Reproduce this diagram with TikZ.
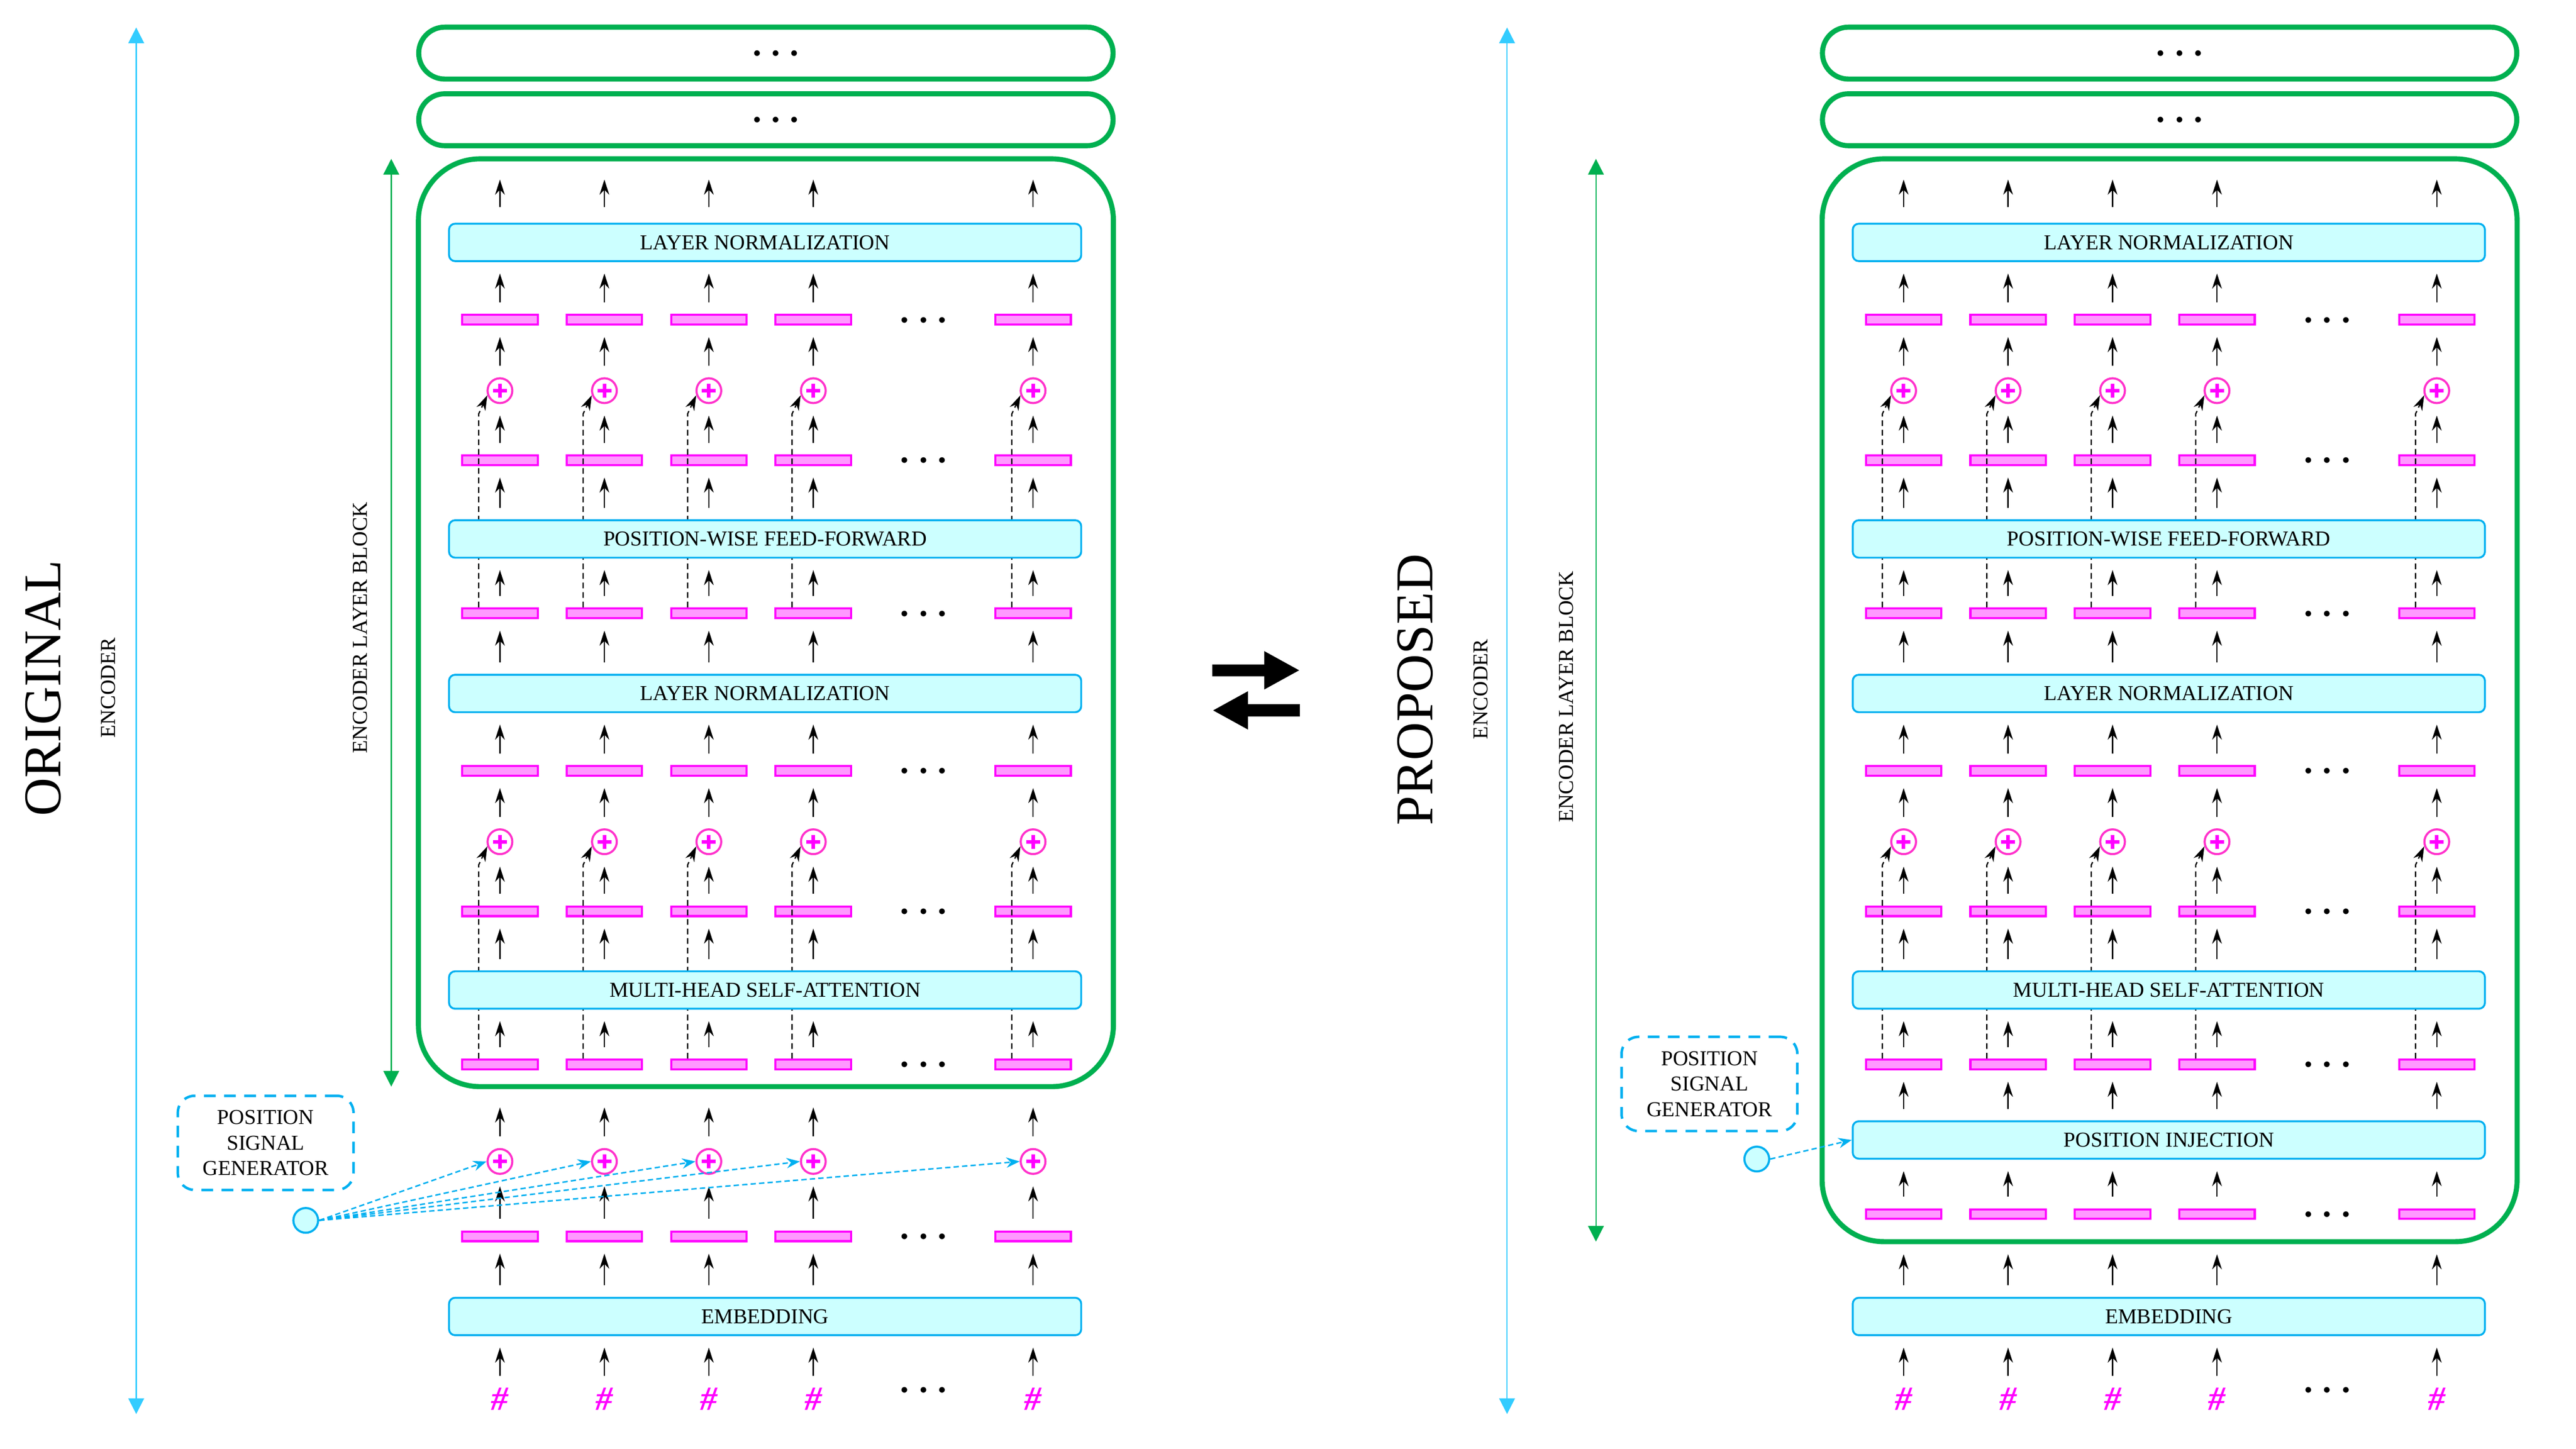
\documentclass[tikz,border=0pt]{standalone}
\usepackage{fontspec}
\setmainfont{Liberation Serif}
\usetikzlibrary{arrows.meta}

\definecolor{blockgreen}{HTML}{00B050}
\definecolor{boxblue}{HTML}{00B0F0}
\definecolor{boxfill}{HTML}{CCFFFF}
\definecolor{encblue}{HTML}{33CCFF}
\definecolor{vecmag}{HTML}{FF00FF}
\definecolor{vecfill}{HTML}{FF99FF}
\definecolor{sumpink}{HTML}{FF33CC}

\tikzset{
	layerbox/.style={draw=boxblue, fill=boxfill, line width=0.9pt, rounded corners=0.1cm,
		minimum width=10.47cm, minimum height=0.62cm, inner sep=0pt},
	vecbox/.style={draw=vecmag, fill=vecfill, line width=1pt,
		minimum width=1.25cm, minimum height=0.16cm, inner sep=0pt},
	sumnode/.style={circle, draw=sumpink, fill=white, line width=1pt, minimum size=0.41cm, inner sep=0pt,
		path picture={\draw[vecmag, line width=1.7pt]
			([xshift=-0.115cm]path picture bounding box.center) -- ([xshift=0.115cm]path picture bounding box.center)
			([yshift=-0.115cm]path picture bounding box.center) -- ([yshift=0.115cm]path picture bounding box.center);}},
	flowarrow/.style={-{Stealth[length=2.5mm,width=1.6mm]}, line width=0.6pt,
		shorten <=0.19cm, shorten >=0.19cm},
	skipline/.style={-{Stealth[length=2.5mm,width=1.6mm]}, line width=0.6pt,
		dash pattern=on 2.7pt off 1.8pt},
	sigline/.style={-{Stealth[length=2.2mm,width=1.7mm]}, draw=boxblue, line width=0.7pt,
		dash pattern=on 2.5pt off 1.5pt},
	genbox/.style={draw=boxblue, line width=1.2pt, dash pattern=on 5.5pt off 4pt,
		rounded corners=0.28cm, minimum width=2.91cm, minimum height=1.56cm, align=center},
	gencirc/.style={circle, draw=boxblue, fill=boxfill, line width=1pt, minimum size=0.41cm, inner sep=0pt},
	stackpill/.style={draw=blockgreen, line width=2.4pt, rounded corners=0.43cm,
		minimum width=11.5cm, minimum height=0.86cm},
	bigblock/.style={draw=blockgreen, line width=2.4pt, rounded corners=1.02cm},
	token/.style={text=vecmag, inner sep=0pt, font=\fontsize{16}{18}\selectfont\bfseries\itshape},
	dotsnode/.style={anchor=base, yshift=-0.158cm, inner sep=0pt, font=\fontsize{18}{20}\selectfont\boldmath},
	spanline/.style={{Triangle[length=0.26cm,width=0.26cm]}-{Triangle[length=0.26cm,width=0.26cm]}, line width=0.6pt},
	swaparrow/.style={-{Triangle[length=0.59cm,width=0.59cm]}, line width=0.2cm},
	headline/.style={rotate=90, font=\fontsize{25}{30}\selectfont},
	sidelabel/.style={rotate=90}
}

\begin{document}
\begin{tikzpicture}
	\useasboundingbox (0,0) rectangle (42.664,24);

	% both encoders share the layers from the attention upwards
	\foreach \side/\dx/\base in {L/0/6.0,R/23.248/3.432}{
	\begin{scope}[xshift=\dx cm]
		\node[stackpill] (\side-stack1) at (12.685,23.12) {};
		\node[stackpill] (\side-stack2) at (12.685,22.016) {};
		\node[dotsnode] (\side-stackdots1) at (12.85,23.12) {$\cdots$};
		\node[dotsnode] (\side-stackdots2) at (12.85,22.016) {$\cdots$};
		\draw[bigblock] (6.93,21.368) rectangle (18.44,\base);

		\foreach \col/\xc in {1/8.28,2/10.01,3/11.74,4/13.47,5/17.11}{
			\node[vecbox] (\side-a\col) at (\xc,18.704) {};
			\node[sumnode] (\side-p\col) at (\xc,17.528) {};
			\node[vecbox] (\side-b\col) at (\xc,16.376) {};
			\node[vecbox] (\side-c\col) at (\xc,13.84) {};
			\node[vecbox] (\side-d\col) at (\xc,11.232) {};
			\node[sumnode] (\side-q\col) at (\xc,10.056) {};
			\node[vecbox] (\side-e\col) at (\xc,8.904) {};
			\node[vecbox] (\side-f\col) at (\xc,6.368) {};
			\node[token] (\side-t\col) at (\xc,0.824) {\#};
			\coordinate (\side-o\col) at (\xc,21.024);
			% residual connections
			\draw[skipline] ([xshift=-0.352cm]\side-c\col.north) -- ([xshift=-0.352cm,yshift=-0.384cm]\side-p\col.center) -- (\side-p\col.200);
			\draw[skipline] ([xshift=-0.352cm]\side-f\col.north) -- ([xshift=-0.352cm,yshift=-0.384cm]\side-q\col.center) -- (\side-q\col.200);
		}
		\foreach \yy [count=\i] in {18.704,16.376,13.84,11.232,8.904,6.368,0.976}
			\node[dotsnode] (\side-dots\i) at (15.296,\yy) {$\cdots$};

		\node[layerbox] (\side-ln1) at (12.672,19.984) {LAYER NORMALIZATION};
		\node[layerbox] (\side-ff) at (12.672,15.072) {POSITION-WISE FEED-FORWARD};
		\node[layerbox] (\side-ln2) at (12.672,12.512) {LAYER NORMALIZATION};
		\node[layerbox] (\side-mha) at (12.672,7.6) {MULTI-HEAD SELF-ATTENTION};
		\node[layerbox] (\side-emb) at (12.672,2.192) {EMBEDDING};

		\foreach \col in {1,...,5}{
			\draw[flowarrow] (\side-t\col) -- (\side-t\col |- \side-emb.south);
			\draw[flowarrow] (\side-f\col) -- (\side-f\col |- \side-mha.south);
			\draw[flowarrow] (\side-f\col |- \side-mha.north) -- (\side-e\col);
			\draw[flowarrow] (\side-e\col) -- (\side-q\col);
			\draw[flowarrow] (\side-q\col) -- (\side-d\col);
			\draw[flowarrow] (\side-d\col) -- (\side-d\col |- \side-ln2.south);
			\draw[flowarrow] (\side-d\col |- \side-ln2.north) -- (\side-c\col);
			\draw[flowarrow] (\side-c\col) -- (\side-c\col |- \side-ff.south);
			\draw[flowarrow] (\side-c\col |- \side-ff.north) -- (\side-b\col);
			\draw[flowarrow] (\side-b\col) -- (\side-p\col);
			\draw[flowarrow] (\side-p\col) -- (\side-a\col);
			\draw[flowarrow] (\side-a\col) -- (\side-a\col |- \side-ln1.south);
			\draw[flowarrow, shorten <=0.26cm, shorten >=0pt] (\side-a\col |- \side-ln1.north) -- (\side-o\col);
		}
	\end{scope}
	}

	% original: position signal added after the embedding
	\foreach \col/\xc in {1/8.28,2/10.01,3/11.74,4/13.47,5/17.11}{
		\node[vecbox] (L-g\col) at (\xc,3.52) {};
		\node[sumnode] (L-s\col) at (\xc,4.76) {};
	}
	\node[dotsnode] (L-dots8) at (15.296,3.52) {$\cdots$};
	\node[genbox] (L-genbox) at (4.4,5.068) {POSITION\\SIGNAL\\GENERATOR};
	\node[gencirc] (L-gen) at (5.064,3.784) {};
	\foreach \col in {1,...,5}{
		\draw[flowarrow] (L-t\col |- L-emb.north) -- (L-g\col);
		\draw[flowarrow] (L-g\col) -- (L-s\col);
		\draw[flowarrow, shorten >=0.616cm] (L-s\col) -- (L-f\col);
		\draw[sigline] (L-gen.east) -- (L-s\col.west);
	}

	% proposed: position injection inside the block
	\begin{scope}[xshift=23.248cm]
		\foreach \col/\xc in {1/8.28,2/10.01,3/11.74,4/13.47,5/17.11}
			\node[vecbox] (R-g\col) at (\xc,3.888) {};
		\node[dotsnode] (R-dots8) at (15.296,3.888) {$\cdots$};
		\node[layerbox] (R-pi) at (12.672,5.116) {POSITION INJECTION};
	\end{scope}
	\node[genbox] (R-genbox) at (28.312,6.044) {POSITION\\SIGNAL\\GENERATOR};
	\node[gencirc] (R-gen) at (29.096,4.8) {};
	\foreach \col in {1,...,5}{
		\draw[flowarrow, shorten >=0.568cm] (R-t\col |- R-emb.north) -- (R-g\col);
		\draw[flowarrow] (R-g\col) -- (R-g\col |- R-pi.south);
		\draw[flowarrow] (R-f\col |- R-pi.north) -- (R-f\col);
	}
	\draw[sigline] (R-gen.east) -- (R-pi.west);

	% labels and spans
	\node[headline] (L-title) at (0.72,12.6) {ORIGINAL};
	\node[sidelabel] (L-enc) at (1.792,12.608) {ENCODER};
	\node[sidelabel] (L-layer) at (5.968,13.6) {ENCODER LAYER BLOCK};
	\node[headline] (R-title) at (23.44,12.576) {PROPOSED};
	\node[sidelabel] (R-enc) at (24.52,12.584) {ENCODER};
	\node[sidelabel] (R-layer) at (25.944,12.456) {ENCODER LAYER BLOCK};

	\coordinate (L-enctop) at (2.256,23.544);
	\coordinate (L-encbot) at (2.256,0.576);
	\coordinate (R-enctop) at (24.96,23.544);
	\coordinate (R-encbot) at (24.96,0.576);
	\draw[spanline, encblue] (L-encbot) -- (L-enctop);
	\draw[spanline, encblue] (R-encbot) -- (R-enctop);

	\coordinate (L-blktop) at (6.48,21.368);
	\coordinate (L-blkbot) at (6.48,6.0);
	\coordinate (R-blktop) at (26.432,21.368);
	\coordinate (R-blkbot) at (26.432,3.432);
	\draw[spanline, blockgreen] (L-blkbot) -- (L-blktop);
	\draw[spanline, blockgreen] (R-blkbot) -- (R-blktop);

	% swap sign between the two
	\coordinate (swap1) at (20.08,12.896);
	\coordinate (swap2) at (21.528,12.896);
	\coordinate (swap3) at (21.528,12.232);
	\coordinate (swap4) at (20.08,12.232);
	\draw[swaparrow] (swap1) -- (swap2);
	\draw[swaparrow] (swap3) -- (swap4);
\end{tikzpicture}
\end{document}
